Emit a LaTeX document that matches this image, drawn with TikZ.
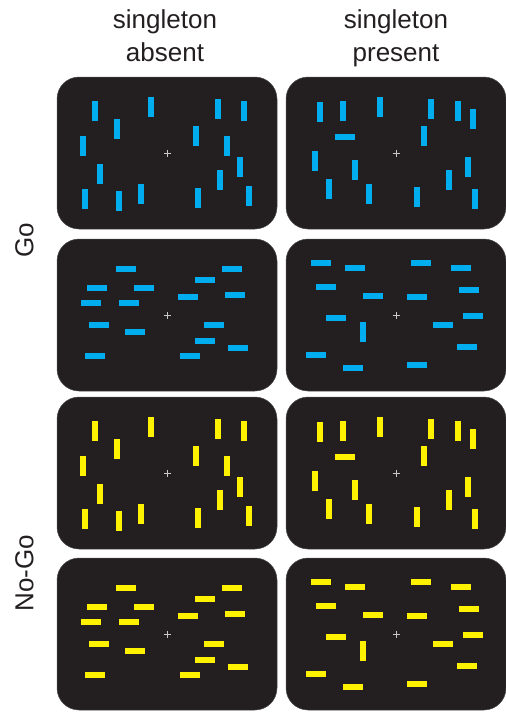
\documentclass[tikz,border=0pt]{standalone}
\usepackage{fontspec}
\setmainfont{Liberation Sans}
\definecolor{panelbg}{HTML}{231F20}
\definecolor{barblue}{HTML}{00AEEF}
\definecolor{baryellow}{HTML}{FFF200}
\definecolor{fixgray}{HTML}{C8C8C8}
\definecolor{textdark}{HTML}{231F20}

% bar centres relative to the fixation cross (px, y pointing down)
\newcommand{\vertAbsent}{-72/-42, -16/-46, 51/-44, 77/-42, -50/-24, -84/-7, 29/-17, 60/-7,
  73/14, -67/21, 53/27, -26/41, -82/46, -48/48, 31/45, 82/43}
\newcommand{\vertPresent}{-76/-41, -53/-42, -16/-46, 35/-44, 62/-42, 77/-34, 28/-17, -81/8,
  -41/17, 72/14, 53/27, -67/36, -27/41, 21/44, 79/46}
\newcommand{\horzAbsent}{-41/-46, 65/-46, 38/-35, -70/-27, -23/-27, 21/-18, 68/-20, -76/-12,
  -38/-12, -68/10, 47/10, -32/17, 38/26, 71/33, -72/41, 23/41}
\newcommand{\horzPresent}{-75/-52, -41/-47, 25/-52, 65/-47, -70/-28, -23/-19, 21/-18, 73/-25,
  -60/3, 77/1, 47/10, 71/32, -80/40, -43/53, 21/50}

% single bars
\newcommand{\vertbar}[3]{\fill[#1] ({#2-3},{#3-10}) rectangle ({#2+3},{#3+10});}
\newcommand{\horzbar}[3]{\fill[#1] ({#2-10},{#3-3}) rectangle ({#2+10},{#3+3});}

\tikzset{
  panel/.style={draw=gray!60!black, line width=0.5pt, fill=panelbg, rounded corners=22pt,
    minimum width=220pt, minimum height=152pt, inner sep=0pt},
  hdr/.style={font=\fontsize{26}{33}\selectfont, text=textdark, inner sep=0pt},
  fixcross/.style={fixgray, line width=0.8pt}
}

\begin{document}
\begin{tikzpicture}[x=1pt, y=-1pt]
    \useasboundingbox (0,0) rectangle (506,713);

    % Column headers
    \node[hdr, anchor=base] (absA) at (165,28) {singleton};
    \node[hdr, anchor=base] (absB) at (165,61) {absent};
    \node[hdr, anchor=base] (preA) at (396,28) {singleton};
    \node[hdr, anchor=base] (preB) at (396,61) {present};

    % Row labels
    \node[hdr, rotate=90] (go) at (24.5,240) {Go};
    \node[hdr, rotate=90] (nogo) at (24.5,573) {No-Go};

    % Panels
    \node[panel] (p11) at (167,153) {};
    \node[panel] (p12) at (396,153) {};
    \node[panel] (p21) at (167,315) {};
    \node[panel] (p22) at (396,315) {};
    \node[panel] (p31) at (167,473) {};
    \node[panel] (p32) at (396,473) {};
    \node[panel] (p41) at (167,634) {};
    \node[panel] (p42) at (396,634) {};

    % Go, vertical targets
    \begin{scope}[shift={(p11)}]
        \foreach \bx/\by in \vertAbsent {\vertbar{barblue}{\bx}{\by}}
        \draw[fixcross] (-3.5,0) -- (3.5,0) (0,-3.5) -- (0,3.5);
    \end{scope}
    \begin{scope}[shift={(p12)}]
        \foreach \bx/\by in \vertPresent {\vertbar{barblue}{\bx}{\by}}
        \horzbar{barblue}{-51}{-16}
        \draw[fixcross] (-3.5,0) -- (3.5,0) (0,-3.5) -- (0,3.5);
    \end{scope}

    % Go, horizontal targets
    \begin{scope}[shift={(p21)}]
        \foreach \bx/\by in \horzAbsent {\horzbar{barblue}{\bx}{\by}}
        \draw[fixcross] (-3.5,0) -- (3.5,0) (0,-3.5) -- (0,3.5);
    \end{scope}
    \begin{scope}[shift={(p22)}]
        \foreach \bx/\by in \horzPresent {\horzbar{barblue}{\bx}{\by}}
        \vertbar{barblue}{-33}{17}
        \draw[fixcross] (-3.5,0) -- (3.5,0) (0,-3.5) -- (0,3.5);
    \end{scope}

    % No-Go, vertical targets
    \begin{scope}[shift={(p31)}]
        \foreach \bx/\by in \vertAbsent {\vertbar{baryellow}{\bx}{\by}}
        \draw[fixcross] (-3.5,0) -- (3.5,0) (0,-3.5) -- (0,3.5);
    \end{scope}
    \begin{scope}[shift={(p32)}]
        \foreach \bx/\by in \vertPresent {\vertbar{baryellow}{\bx}{\by}}
        \horzbar{baryellow}{-51}{-16}
        \draw[fixcross] (-3.5,0) -- (3.5,0) (0,-3.5) -- (0,3.5);
    \end{scope}

    % No-Go, horizontal targets
    \begin{scope}[shift={(p41)}]
        \foreach \bx/\by in \horzAbsent {\horzbar{baryellow}{\bx}{\by}}
        \draw[fixcross] (-3.5,0) -- (3.5,0) (0,-3.5) -- (0,3.5);
    \end{scope}
    \begin{scope}[shift={(p42)}]
        \foreach \bx/\by in \horzPresent {\horzbar{baryellow}{\bx}{\by}}
        \vertbar{baryellow}{-33}{17}
        \draw[fixcross] (-3.5,0) -- (3.5,0) (0,-3.5) -- (0,3.5);
    \end{scope}
\end{tikzpicture}
\end{document}
